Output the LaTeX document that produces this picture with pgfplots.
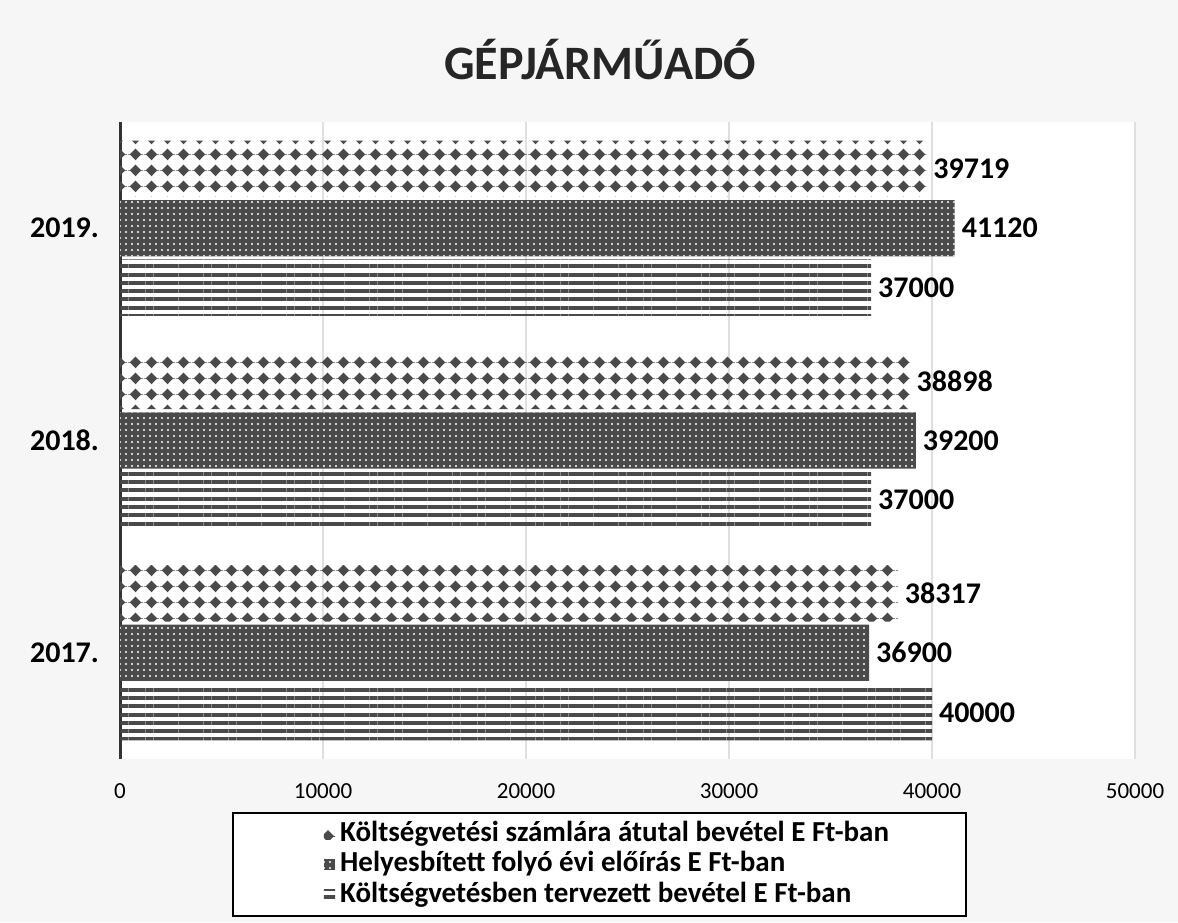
\documentclass[border=0pt]{standalone}
\usepackage{fontspec}
\setmainfont{Carlito}
\usepackage{pgfplots}
\pgfplotsset{compat=1.18}
\usetikzlibrary{patterns,patterns.meta}

\tikzdeclarepattern{
  name=diamonds,
  type=uncolored,
  bounding box={(0pt,0pt) and (8pt,7.8pt)},
  tile size={(8pt,7.8pt)},
  code={
    \fill (4pt,0.9pt) -- (7pt,3.9pt) -- (4pt,6.9pt) -- (1pt,3.9pt) -- cycle;
    \draw[line width=0.35pt] (0pt,3.9pt) -- (8pt,3.9pt);
  }
}

\definecolor{bardark}{HTML}{4A4A4A}

\begin{document}
\begin{tikzpicture}
\useasboundingbox (0,0) rectangle (589pt,461pt);
\fill[gray!7] (0,0) rectangle (589pt,461pt);
\begin{axis}[
  at={(60pt,81.5pt)}, anchor=south west,
  scale only axis, width=507.5pt, height=318.5pt,
  xbar, bar width=0.265,
  xmin=0, xmax=50000, ymin=-0.5, ymax=2.5,
  xtick={0,10000,20000,30000,40000,50000},
  ytick={0,1,2}, yticklabels={2017.,2018.,2019.},
  scaled x ticks=false,
  /pgf/number format/1000 sep={},
  /pgf/number format/assume math mode=true,
  xmajorgrids, grid style={gray!25, line width=0.6pt},
  major tick length=0pt,
  axis background/.style={fill=white},
  axis lines*=left,
  x axis line style={draw=none},
  y axis line style={line width=1.5pt, draw=black!80},
  xticklabel style={font=\fontsize{11.5}{14}\selectfont, yshift=-9pt},
  yticklabel style={font=\fontsize{15}{18}\bfseries\selectfont, xshift=-7pt},
  title={GÉPJÁRMŰADÓ},
  title style={font=\fontsize{24}{29}\bfseries\selectfont, text=black!85, at={(0.473,1)}, anchor=center, yshift=25pt},
  point meta=x,
  nodes near coords={\pgfmathprintnumber[1000 sep={}]{\pgfplotspointmeta}},
  nodes near coords style={font=\fontsize{15}{18}\bfseries\selectfont, text=black},
  legend style={at={(0.1103,-0.0832)}, anchor=north west, draw=black, line width=1pt, fill=white,
    font=\fontsize{14.5}{17}\bfseries\selectfont, inner xsep=36pt, inner ysep=3pt, row sep=0pt,
    nodes={text height=10pt, text depth=3pt, inner ysep=1.1pt, inner xsep=2.5pt}},
  legend cell align=left,
  reverse legend,
  legend image code/.code={\node[inner sep=0pt, minimum width=9pt, minimum height=1pt, anchor=east] at (0pt,0pt) {}; \path[#1, draw=none] (0pt,-2.8pt) rectangle (5.6pt,2.8pt);},
]
\addplot[draw=none, pattern={Lines[angle=0,distance=4.15pt,line width=2pt]}, pattern color=bardark, bar shift=-0.28]
  coordinates {(40000,0) (37000,1) (37000,2)};
\addplot[draw=none, fill=bardark, postaction={pattern={Dots[distance=3pt,radius=0.6pt]}, pattern color=white}, bar shift=0]
  coordinates {(36900,0) (39200,1) (41120,2)};
\addplot[draw=none, pattern=diamonds, pattern color=bardark, bar shift=0.28]
  coordinates {(38317,0) (38898,1) (39719,2)};
\legend{Költségvetésben tervezett bevétel E Ft-ban, Helyesbített folyó évi előírás E Ft-ban, Költségvetési számlára átutal bevétel E Ft-ban}
\end{axis}
\end{tikzpicture}
\end{document}
